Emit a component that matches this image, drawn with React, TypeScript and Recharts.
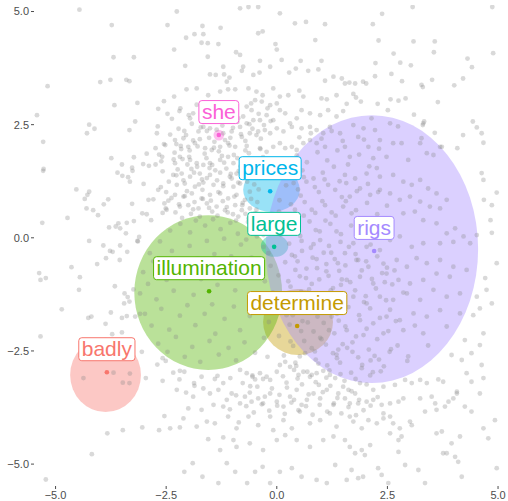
import { ScatterChart, Scatter, XAxis, YAxis, ReferenceArea } from "recharts";

const words = ["badly", "determine", "illumination", "large", "prices", "rigs", "she"];
const colors = ["#F8766D", "#C49A00", "#53B400", "#00C094", "#00B6EB", "#A58AFF", "#FB61D7"];

// word positions
const wordX = [-3.84, 0.46, -1.53, -0.06, -0.15, 2.2, -1.31];
const wordY = [-2.97, -1.95, -1.18, -0.2, 1.03, -0.29, 2.27];

// ellipse centres and half axes
const ellCx = [-3.87, 0.48, -1.55, -0.05, -0.12, 2.15, -1.31];
const ellCy = [-3.03, -1.86, -1.21, -0.18, 1.06, -0.25, 2.27];
const ellRx = [0.8, 0.79, 1.67, 0.31, 0.64, 2.4, 0.12];
const ellRy = [0.82, 0.73, 1.71, 0.24, 0.49, 2.96, 0.12];

const xTicks = [-5, -2.5, 0, 2.5, 5];
const yTicks = [-5, -2.5, 0, 2.5, 5];

// background cloud, by region
const cloudNW = [
  [-4.46, 5.04], [-3.73, 4.7], [-2.47, 4.7], [-3.69, 3.99], [-3.23, 3.99], [-5.18, 3.35], [-3.99, 3.44], [-3.76, 3.49],
  [-3.4, 3.49], [-3.33, 3.46], [-3.67, 2.93], [-3.15, 2.98], [-2.55, 3.02], [-2.68, 2.85], [-5.42, 2.71], [-4.24, 2.5],
  [-4.12, 2.41], [-4.29, 2.31], [-3.2, 2.57], [-3.33, 2.38], [-2.69, 2.46], [-5.28, 2.12], [-2.74, 1.98], [-2.55, 2.07],
  [-2.94, 1.86], [-2.66, 1.84], [-2.59, 1.79], [-3.23, 1.78], [-3.74, 1.76], [-3.5, 1.62], [-3.27, 1.55], [-3.02, 1.63],
  [-2.89, 1.59], [-2.74, 1.62], [-2.61, 1.69], [-5.27, 1.52],
];
const cloudW = [
  [-5.28, 1.48], [-3.6, 1.44], [-3.49, 1.37], [-3.36, 1.34], [-3.26, 1.48], [-3.32, 1.24], [-3.01, 1.19], [-4.53, 1.07],
  [-4.24, 1.02], [-4.28, 0.95], [-4.34, 0.86], [-3.81, 0.85], [-3.91, 0.74], [-3.27, 0.75], [-2.9, 0.84], [-2.79, 0.85],
  [-2.68, 1.06], [-2.5, 1.01], [-4.3, 0.65], [-4.15, 0.61], [-4.04, 0.5], [-3.04, 0.54], [-2.94, 0.52], [-4.73, 0.44],
  [-5.3, 0.33], [-3.58, 0.32], [-3.64, 0.25], [-3.54, 0.21], [-3.39, 0.33], [-3.23, 0.37], [-3.41, 0.1], [-3.79, 0.23],
  [-2.84, 0.39], [-2.58, 0.55], [-2.54, 0.76], [-2.51, 0.65], [-4.24, -0.07], [-3.92, -0.17], [-3.77, -0.29], [-3.71, -0.31],
  [-3.54, -0.17], [-3.38, -0.31], [-3.14, -0.08], [-3.11, 0.02], [-3.86, -0.45], [-4.06, -0.58], [-3.55, -0.49], [-4.64, -0.65],
  [-5.37, -0.78], [-5.22, -0.89], [-5.34, -0.93], [-4.45, -0.87], [-4.47, -1.15], [-3.66, -1.07], [-3.44, -1.23], [-3.37, -1.31],
  [-3.33, -1.41], [-3.45, -1.45], [-3.24, -1.14], [-4.86, -1.58], [-4.26, -1.77], [-4.19, -1.74], [-3.87, -1.9], [-3.75, -1.65],
  [-3.5, -1.77], [-3.39, -1.73], [-3.2, -1.74], [-3.09, -1.68], [-3.15, -0.07], [-5.34, -2.18], [-3.72, -2.13], [-3.5, -2.09],
];
const cloudSW = [
  [-4.37, -3.1], [-3.69, -2.98], [-3.32, -3.0], [-3.48, -3.2], [-3.33, -3.21], [-3.05, -2.52], [-2.7, -2.8], [-2.58, -2.66],
  [-2.51, -2.72], [-2.96, -3.1], [-2.58, -3.16], [-2.54, -3.94], [-3.83, -4.32], [-3.48, -4.25], [-3.04, -4.19], [-2.66, -4.25],
  [-4.18, -4.78], [-5.22, -5.34],
];
const cloudS = [
  [-2.34, -2.98], [-2.19, -2.94], [-2.09, -2.96], [-2.2, -3.13], [-1.87, -3.21], [-1.7, -3.07], [-1.4, -3.12], [-1.34, -3.05],
  [-1.21, -3.21], [-0.83, -2.92], [-0.68, -2.99], [-0.55, -3.07], [-0.49, -3.13], [-0.38, -2.99], [-0.23, -3.07], [-0.15, -3.14],
  [0.0, -2.96], [0.07, -2.81], [0.19, -2.74], [0.3, -2.85], [0.39, -2.92], [0.49, -3.03], [0.6, -2.96], [0.75, -3.07],
  [0.9, -2.99], [1.05, -2.94], [1.2, -3.03], [1.32, -3.1], [-2.26, -3.36], [-2.05, -3.42], [-1.89, -3.51], [-1.66, -3.33],
  [-1.51, -3.44], [-1.32, -3.36], [-1.13, -3.58], [-1.02, -3.44], [-0.83, -3.66], [-0.72, -3.51], [-0.57, -3.62], [-0.42, -3.55],
  [-0.31, -3.66], [-0.15, -3.44], [0.0, -3.62], [0.15, -3.73], [0.3, -3.51], [0.45, -3.36], [0.56, -3.69], [0.68, -3.58],
  [0.83, -3.44], [0.98, -3.55], [1.13, -3.36], [1.28, -3.69], [1.39, -3.44], [-2.0, -3.77], [-1.7, -3.8], [-1.43, -3.69],
  [-1.21, -3.73], [-2.11, -3.99], [-1.81, -4.17], [-1.58, -4.06], [-1.4, -4.1], [-1.1, -3.95], [-0.91, -4.21], [-0.64, -3.95],
  [-0.42, -4.14], [-0.15, -3.95], [-0.08, -4.25], [0.15, -4.03], [0.34, -4.21], [0.52, -3.84], [0.75, -4.1], [0.98, -4.03],
  [1.2, -3.88], [1.35, -4.17], [-1.55, -4.45], [-1.21, -4.41], [-0.98, -4.47], [-0.61, -4.54], [-0.31, -4.69], [0.0, -4.47],
  [0.19, -4.36], [0.45, -4.47], [0.75, -4.62], [1.05, -4.47], [1.28, -4.39], [-1.28, -4.69], [-0.91, -4.62], [-1.9, -4.98],
  [-2.09, -5.17], [-1.68, -5.28], [-1.32, -5.42], [-0.94, -5.17], [-0.67, -5.42], [-0.49, -5.17], [-0.32, -5.06], [-0.15, -5.42],
  [0.07, -5.17], [0.34, -5.09], [0.56, -5.28], [0.9, -5.35], [1.13, -5.42], [1.32, -5.02], [-1.13, -4.98], [-2.41, -4.21],
  [-2.19, -4.19], [-1.86, -3.27], [-0.6, -3.28], [0.22, -3.2], [0.95, -3.25], [-1.05, -3.1],
];
const cloudSE = [
  [1.5, -3.29], [1.62, -3.36], [1.77, -3.44], [1.88, -3.21], [2.18, -3.36], [2.41, -3.29], [2.67, -3.25], [2.9, -3.14],
  [3.05, -3.21], [3.24, -3.14], [3.39, -3.21], [3.65, -3.13], [3.76, -3.18], [4.07, -3.4], [4.18, -2.7], [4.29, -2.99],
  [4.4, -3.18], [4.67, -3.1], [4.63, -2.81], [3.95, -2.59], [4.25, -2.26], [4.59, -2.37], [4.4, -2.55], [1.54, -3.55],
  [1.65, -3.66], [1.84, -3.66], [2.03, -3.62], [2.18, -3.58], [2.37, -3.69], [2.56, -3.66], [2.75, -3.62], [2.86, -3.55],
  [3.24, -3.55], [3.35, -3.84], [3.5, -3.51], [3.58, -3.66], [3.61, -3.8], [3.8, -3.73], [3.88, -3.62], [3.99, -3.55],
  [4.07, -3.44], [4.25, -3.73], [4.4, -3.84], [4.59, -3.44], [4.93, -4.03], [1.65, -3.95], [1.73, -4.06], [1.92, -4.21],
  [2.07, -4.03], [2.26, -4.1], [2.41, -3.99], [2.56, -3.95], [2.63, -4.1], [2.78, -4.21], [3.01, -4.06], [3.05, -4.14],
  [3.61, -4.32], [3.73, -4.28], [3.95, -4.54], [4.14, -4.39], [4.67, -4.21], [4.78, -4.43], [1.54, -4.47], [1.65, -4.62],
  [1.77, -4.76], [1.92, -4.69], [1.99, -4.8], [2.11, -4.58], [2.56, -4.32], [2.75, -4.47], [2.82, -4.39], [2.9, -5.02],
  [2.75, -4.73], [3.2, -5.13], [3.35, -5.42], [3.76, -4.76], [3.84, -4.76], [4.03, -4.84], [4.1, -4.95], [4.18, -5.28],
  [4.97, -5.09], [1.69, -5.13], [1.58, -5.35], [1.84, -5.31], [1.95, -5.28], [2.29, -5.09], [2.37, -5.24], [2.52, -5.42],
];
const cloudE = [
  [4.63, 1.43], [4.67, 1.28], [4.97, 1.0], [4.86, 0.72], [4.86, 0.11], [4.97, -0.56], [4.71, -0.89], [4.74, -1.15],
  [4.86, -1.45], [4.59, -1.56], [4.44, -1.71], [4.67, -2.11], [4.52, -1.3], [4.68, 0.84], [4.83, 0.39], [4.52, 0.06],
  [3.07, 5.1], [4.87, 5.1], [2.38, 4.95], [2.17, 4.72], [2.3, 4.36], [3.09, 4.34], [3.57, 4.34], [3.55, 4.1],
  [4.89, 4.08], [2.64, 4.07], [2.23, 3.86], [2.79, 3.87], [3.03, 3.81], [4.31, 3.96], [4.41, 3.77], [2.22, 3.57],
  [2.59, 3.62], [2.83, 3.46], [3.27, 3.38], [3.3, 3.33], [3.51, 3.49], [4.01, 3.37], [4.21, 3.52], [1.47, 3.52],
  [1.54, 3.41], [1.64, 3.43], [1.77, 3.41], [1.95, 3.45], [2.02, 3.41], [1.73, 3.18], [1.79, 3.1], [1.9, 3.01],
  [1.58, 2.96], [1.5, 2.8], [2.28, 2.96], [2.51, 2.82], [2.57, 3.06], [2.75, 3.03], [2.91, 3.08], [3.1, 2.72],
  [3.33, 2.57], [3.3, 2.49], [3.64, 3.0], [3.57, 2.32], [4.43, 2.57], [4.52, 2.44], [4.63, 2.31], [4.67, 2.1],
  [4.21, 2.27], [4.08, 1.98], [3.73, 2.01],
];
const cloudN = [
  [-0.83, 5.07], [-0.64, 5.1], [-0.42, 5.1], [0.07, 4.96], [0.41, 4.74], [0.66, 4.77], [1.09, 4.72], [-2.26, 5.0],
  [-1.68, 4.68], [-1.86, 4.5], [-1.66, 4.5], [-2.05, 4.42], [-1.7, 4.31], [-1.56, 4.3], [-1.32, 4.28], [-2.32, 4.16],
  [-0.92, 4.1], [-0.83, 4.04], [-1.27, 4.64], [-0.42, 4.52], [-0.32, 4.56], [-0.03, 4.28], [0.0, 4.16], [-0.38, 3.91],
  [0.11, 3.93], [0.54, 3.91], [1.01, 3.91], [0.87, 4.37], [-2.07, 3.8], [-1.56, 4.0], [-1.51, 3.61], [-1.38, 3.6],
  [-1.21, 3.78], [-1.19, 3.61], [-1.07, 3.54], [-1.13, 3.45], [-0.79, 3.69], [-0.76, 3.78], [-0.53, 3.6], [-0.39, 3.65],
  [-0.15, 3.78], [0.28, 3.65], [0.43, 3.74], [0.71, 3.69], [0.94, 3.72], [1.09, 3.47], [1.28, 3.56], [-2.32, 3.12],
  [-2.04, 3.28], [-1.81, 3.3], [-1.55, 3.15], [-1.28, 3.23], [-1.1, 3.28], [-0.94, 3.28], [-0.64, 3.3], [-0.46, 3.23],
  [-0.32, 3.15], [-0.08, 3.3], [0.07, 3.12], [0.26, 3.15], [0.51, 3.25], [0.6, 3.12], [1.01, 3.08], [1.13, 3.06],
  [1.35, 3.15], [-2.2, 2.8], [-1.96, 2.64], [-1.89, 2.75], [-1.66, 2.45], [-1.77, 2.35], [-1.51, 2.42], [-0.87, 2.64],
  [-0.68, 2.9], [-0.57, 2.82], [-0.49, 3.04], [-0.34, 3.01], [-0.15, 2.93], [0.0, 2.97], [0.07, 2.82], [0.19, 2.75],
  [0.3, 2.53], [0.45, 2.64], [0.56, 2.82], [0.75, 2.75], [0.98, 2.71], [1.16, 2.82], [1.35, 2.68], [-0.53, 2.6],
  [-0.38, 2.6], [-0.23, 2.71], [-0.08, 2.6], [-0.68, 2.53], [-0.83, 2.45], [-1.21, 2.31], [-1.02, 2.35], [-0.79, 2.23],
  [-0.61, 2.31], [-0.42, 2.35], [-0.27, 2.38], [-0.15, 2.31], [0.0, 2.42], [0.15, 2.35], [0.34, 2.45], [0.56, 2.42],
  [0.75, 2.45], [0.9, 2.38], [1.05, 2.31], [1.2, 2.45], [-2.3, 2.16], [-2.11, 2.2], [-2.0, 2.01], [-2.17, 2.03],
  [-1.85, 2.09], [-1.62, 1.98], [-1.47, 1.94], [-1.28, 2.01], [-1.1, 2.09], [-0.94, 2.01], [-0.68, 2.03], [-0.38, 1.98],
  [-0.23, 1.9], [-0.08, 2.01], [0.07, 2.09], [0.19, 1.98], [0.34, 2.01], [0.45, 1.94], [0.6, 2.09], [0.75, 2.16],
  [0.9, 2.09], [1.09, 2.01], [-1.81, 1.65], [-1.66, 1.61], [-1.51, 1.65], [-1.28, 1.72], [-1.1, 1.79], [-0.98, 1.65],
  [-2.19, 1.79], [-1.96, 1.72], [-2.3, 1.65],
];
const cloudMid = [
  [-2.34, 1.39], [-2.15, 1.42], [-1.96, 1.35], [-1.74, 1.42], [-1.51, 1.39], [-1.28, 1.44], [-1.06, 1.35], [-0.91, 1.42],
  [-2.26, 1.17], [-2.08, 1.2], [-1.85, 1.13], [-1.66, 1.22], [-1.43, 1.17], [-1.21, 1.2], [-0.98, 1.13], [-0.83, 1.2],
  [-2.3, 0.95], [-2.11, 0.91], [-1.92, 0.98], [-1.7, 0.87], [-1.51, 0.95], [-1.28, 0.98], [-1.1, 0.87], [-0.91, 0.95],
  [-0.72, 0.84], [-2.19, 0.69], [-2.0, 0.72], [-1.77, 0.65], [-1.58, 0.76], [-1.36, 0.69], [-1.17, 0.61], [-0.94, 0.72],
  [-0.79, 0.61], [-0.61, 0.65], [-0.87, 0.47], [-0.64, 0.43], [-0.49, 0.54], [-0.53, 0.21], [-0.42, 0.32], [-0.3, 0.06],
  [-0.45, 0.03], [-0.3, -0.2], [-0.19, -0.34], [-0.61, 0.1],
];
const cloudDense = [
  [-2.22, 2.41], [-2.05, 2.27], [-1.92, 2.52], [-1.74, 2.18], [-1.58, 2.36], [-1.41, 2.12], [-1.23, 2.48], [-1.05, 2.21],
  [-0.89, 2.56], [-0.71, 2.14], [-0.55, 2.41], [-0.36, 2.19], [-2.31, 1.88], [-2.13, 1.74], [-1.97, 1.93], [-1.8, 1.57],
  [-1.63, 1.86], [-1.46, 1.61], [-1.31, 1.91], [-1.14, 1.53], [-0.97, 1.83], [-0.82, 1.58], [-0.63, 1.87], [-0.47, 1.63],
  [-0.31, 1.78], [-2.24, 1.51], [-2.02, 1.62], [-1.87, 1.44], [-1.69, 1.29], [-1.52, 1.54], [-1.35, 1.27], [-1.19, 1.66],
  [-1.02, 1.31], [-0.86, 1.48], [-0.67, 1.24], [-0.52, 1.39], [-0.41, 1.07], [-0.58, 0.86], [-0.46, 0.62], [-0.34, 0.41],
  [-0.65, 0.35], [-0.78, 0.72], [-0.99, 0.52], [-1.22, 0.81], [-1.46, 0.58], [-1.67, 0.86], [-1.89, 0.63], [-2.08, 0.92],
  [-2.29, 0.56], [-2.45, 0.82],
];
const cloudUpperBand = [
  [-2.37, 2.63], [-2.18, 2.86], [-1.99, 2.71], [-1.81, 2.94], [-1.62, 2.67], [-1.44, 2.82], [-1.27, 2.59], [-1.08, 2.77],
  [-0.93, 2.91], [-0.76, 2.68], [-0.58, 2.97], [-0.41, 2.74], [-2.41, 2.28], [-2.27, 2.07], [-2.09, 2.36], [-1.89, 2.15],
  [-1.72, 2.44], [-1.53, 2.21], [-1.36, 2.39], [-1.17, 2.16], [-0.99, 2.43], [-0.81, 2.29], [-0.62, 2.51], [-0.46, 2.27],
  [-0.29, 2.49], [-2.33, 1.73], [-2.16, 1.96], [-1.98, 1.79], [-1.79, 2.02], [-1.59, 1.76], [-1.42, 1.99], [-1.24, 1.81],
  [-1.07, 2.04], [-0.89, 1.76], [-0.71, 1.93], [-0.53, 1.74], [-0.37, 1.96], [-2.44, 1.24], [-2.27, 1.38], [-2.11, 1.27],
  [-1.93, 1.52], [-1.76, 1.18], [-1.58, 1.32], [-1.39, 1.49], [-1.21, 1.14], [-1.04, 1.41], [-0.87, 1.22], [-0.69, 1.54],
  [-0.51, 1.18], [-0.36, 1.33], [-2.38, 0.88], [-2.21, 0.74], [-2.03, 1.03], [-1.86, 0.79], [-1.68, 1.06], [-1.49, 0.82],
  [-1.32, 1.01], [-1.13, 0.68], [-0.96, 0.91], [-0.77, 0.77], [-0.61, 1.02], [-0.44, 0.79], [-2.14, 0.44], [-1.94, 0.53],
  [-1.74, 0.47], [-1.53, 0.66], [-1.34, 0.49], [-1.11, 0.56], [-0.92, 0.38], [-0.71, 0.53], [-0.52, 0.28], [-0.39, 0.16],
  [-2.52, 2.05], [-2.58, 1.47], [-2.62, 1.12], [-2.49, 0.62], [-2.71, 2.31], [-2.47, 2.74], [-0.21, 2.86], [-0.14, 2.58],
];
const cloudGreen = [
  [-2.87, -0.34], [-2.64, -0.08], [-2.41, 0.16], [-2.18, 0.31], [-1.96, 0.12], [-1.83, 0.38], [-1.62, 0.27], [-1.44, 0.41],
  [-1.27, 0.19], [-1.05, 0.33], [-0.88, 0.09], [-0.69, -0.04], [-3.02, -0.76], [-2.79, -0.52], [-2.58, -0.67], [-2.37, -0.29],
  [-2.21, -0.58], [-1.97, -0.18], [-1.79, -0.46], [-1.58, -0.07], [-1.41, -0.36], [-1.19, -0.02], [-1.03, -0.41], [-0.81, -0.15],
  [-0.57, -0.44], [-0.38, -0.71], [-3.09, -1.23], [-2.91, -1.02], [-2.72, -1.36], [-2.49, -0.93], [-2.33, -1.17], [-2.06, -0.84],
  [-1.88, -1.26], [-1.71, -0.91], [-1.46, -1.47], [-1.34, -1.04], [-1.12, -0.72], [-0.94, -1.16], [-0.74, -0.83], [-0.52, -1.24],
  [-0.27, -0.96], [-2.98, -1.68], [-2.83, -1.94], [-2.61, -1.57], [-2.43, -2.03], [-2.19, -1.72], [-2.02, -1.49], [-1.84, -1.93],
  [-1.63, -1.68], [-1.39, -2.12], [-1.18, -1.79], [-0.97, -1.52], [-0.83, -2.04], [-0.61, -1.73], [-0.42, -1.48], [-0.18, -1.86],
  [-2.68, -2.34], [-2.47, -2.52], [-2.28, -2.19], [-2.08, -2.63], [-1.91, -2.41], [-1.73, -2.74], [-1.52, -2.28], [-1.31, -2.58],
  [-1.09, -2.43], [-0.92, -2.71], [-0.73, -2.31], [-0.49, -2.54], [-0.29, -2.21],
];
const cloudPurple = [
  [1.54, 1.39], [1.77, 1.31], [2.03, 1.42], [2.33, 1.35], [2.63, 1.39], [2.86, 1.24], [3.05, 1.17], [3.24, 1.28],
  [3.42, 1.09], [3.61, 0.98], [3.84, 0.84], [3.69, 0.65], [3.46, 0.69], [3.24, 0.8], [3.01, 0.91], [2.78, 0.84],
  [2.56, 0.98], [2.33, 1.06], [2.11, 0.95], [1.88, 1.09], [1.65, 0.91], [1.5, 0.69], [1.69, 0.54], [2.86, 0.54],
  [3.12, 0.58], [3.31, 0.39], [3.61, 0.32], [3.84, 0.1], [4.03, 0.21], [4.22, 0.03], [4.37, -0.12], [3.99, -0.09],
  [3.69, -0.12], [3.31, -0.12], [3.05, -0.2], [2.78, 0.03], [2.56, -0.05], [2.33, -0.27], [2.03, -0.2], [1.73, -0.12],
  [1.54, -0.34], [1.8, -0.49], [2.07, -0.64], [2.41, -0.57], [2.71, -0.49], [2.94, -0.64], [3.16, -0.45], [3.39, -0.56],
  [3.69, -0.49], [3.99, -0.64], [4.29, -0.71], [3.91, -0.86], [3.61, -0.79], [3.31, -0.93], [3.01, -1.01], [2.75, -0.93],
  [2.48, -0.79], [2.18, -1.01], [1.88, -0.86], [1.58, -0.93], [1.73, -1.3], [2.03, -1.45], [2.33, -1.3], [2.63, -1.37],
  [2.94, -1.23], [3.24, -1.37], [3.54, -1.15], [3.84, -1.3], [4.14, -1.23], [3.69, -1.6], [3.39, -1.74], [3.09, -1.67],
  [2.78, -1.82], [2.48, -1.74], [2.18, -1.89], [1.88, -1.82], [1.58, -2.04], [1.96, -2.15], [2.41, -2.11], [2.86, -2.04],
  [3.31, -2.11], [3.84, -1.96], [4.14, -1.67], [1.43, 2.31], [1.54, 2.01], [1.65, 1.79], [1.84, 2.23], [1.96, 2.42],
  [2.07, 2.01], [2.14, 2.64], [2.33, 2.16], [2.48, 1.79], [2.56, 2.53], [2.63, 2.09], [2.74, 2.46], [2.82, 2.09],
  [2.97, 1.72], [3.24, 2.09], [3.31, 2.53], [3.27, 2.2], [3.39, 1.87], [3.54, 1.83], [3.69, 2.01], [2.18, 1.76],
  [2.26, 1.54], [1.71, -2.52], [2.12, -2.71], [2.58, -2.46], [2.97, -2.62], [3.42, -2.38], [2.35, -2.95], [1.92, -2.88],
];
const cloudPurpleLow = [
  [0.34, -0.38], [0.57, -0.29], [0.81, -0.44], [1.06, -0.33], [1.31, -0.47], [1.55, -0.61], [1.78, -0.36], [2.02, -0.52],
  [2.27, -0.41], [2.49, -0.66], [0.42, -0.71], [0.66, -0.89], [0.91, -0.67], [1.17, -0.84], [1.41, -0.73], [1.66, -0.98],
  [1.92, -0.72], [2.15, -0.91], [2.38, -0.78], [2.61, -1.03], [0.31, -1.08], [0.55, -1.19], [0.79, -1.02], [1.03, -1.27],
  [1.27, -1.11], [1.52, -1.34], [1.77, -1.16], [2.01, -1.29], [2.24, -1.12], [2.47, -1.38], [0.39, -1.52], [0.64, -1.41],
  [0.88, -1.63], [1.13, -1.47], [1.36, -1.68], [1.62, -1.53], [1.86, -1.71], [2.11, -1.56], [2.33, -1.77], [2.56, -1.59],
  [0.29, -1.92], [0.58, -1.84], [0.83, -2.07], [1.06, -1.88], [1.3, -2.11], [1.55, -1.96], [1.79, -2.18], [2.03, -2.01],
  [2.27, -2.24], [2.52, -2.06], [0.37, -2.39], [0.62, -2.28], [0.86, -2.51], [1.11, -2.36], [1.35, -2.58], [1.59, -2.43],
  [1.84, -2.64], [2.08, -2.47], [2.31, -2.69], [2.55, -2.52], [0.44, -2.83], [0.69, -2.96], [0.94, -2.78], [1.19, -2.93],
  [1.43, -2.76], [1.68, -2.98], [1.93, -2.81], [2.17, -2.97], [2.42, -2.84], [0.47, -0.52], [0.73, -1.31], [0.98, -2.21],
  [1.24, -1.74], [1.47, -0.92], [1.71, -2.31], [1.97, -1.42], [2.21, -2.61], [2.44, -0.98], [0.52, -2.62], [1.12, -0.58],
  [1.39, -2.47], [1.84, -0.49], [0.36, -1.71], [2.69, -1.84], [2.73, -2.38], [2.66, -0.72], [2.86, -1.21], [2.95, -2.72],
  [3.12, -1.94],
];
const cloudLowerBand = [
  [-0.77, -3.21], [-0.61, -3.42], [-0.44, -3.29], [-0.27, -3.51], [-0.11, -3.33], [0.06, -3.47], [0.23, -3.31], [0.39, -3.58],
  [0.57, -3.24], [0.72, -3.46], [0.88, -3.19], [1.04, -3.41], [1.21, -3.27], [1.37, -3.54], [1.53, -3.16], [1.69, -3.39],
  [1.86, -3.58], [2.03, -3.24], [-0.69, -3.72], [-0.52, -3.86], [-0.34, -3.68], [-0.17, -3.82], [0.01, -3.71], [0.18, -3.89],
  [0.33, -3.64], [0.49, -3.81], [0.66, -3.72], [0.81, -3.91], [0.97, -3.69], [1.14, -3.84], [1.29, -3.66], [1.46, -3.88],
  [1.62, -3.74], [1.79, -3.92], [1.96, -3.81], [2.12, -3.71], [-0.55, -3.04], [-0.31, -3.12], [0.14, -3.06], [0.47, -3.11],
  [0.79, -3.03], [1.12, -3.09], [1.44, -3.01], [1.78, -3.12], [2.11, -3.04], [-0.92, -3.48], [-1.06, -3.79], [2.28, -3.52],
  [2.41, -3.88], [-0.86, -4.08],
];
const cloudPurpleHigh = [
  [0.45, 1.82], [0.68, 1.67], [0.92, 1.89], [1.14, 1.71], [1.37, 1.93], [1.61, 1.62], [1.86, 1.84], [2.09, 1.58],
  [2.31, 1.97], [0.51, 2.22], [0.77, 2.31], [1.01, 2.19], [1.24, 2.36], [1.49, 2.14], [1.73, 2.49], [1.97, 2.17],
  [2.22, 2.38], [0.41, 0.62], [0.63, 0.79], [0.87, 0.55], [1.09, 0.72], [1.33, 0.49], [1.56, 0.81], [1.79, 0.61],
  [2.04, 0.77], [2.27, 0.52], [2.49, 0.71], [0.49, 0.23], [0.74, 0.36], [0.97, 0.14], [1.21, 0.31], [1.45, 0.08],
  [1.68, 0.27], [1.92, 0.04], [2.16, 0.22], [2.39, 0.09], [0.38, 1.21], [0.61, 1.34], [0.86, 1.12], [1.08, 1.29],
  [1.32, 1.06], [1.57, 1.21], [1.81, 1.03], [2.06, 1.19], [2.29, 1.01], [0.56, -0.07], [0.83, -0.14], [1.18, -0.18],
  [1.63, -0.2], [2.12, -0.15],
];
const cloudCore = [
  [0.12, 1.52], [0.37, 1.36], [0.58, 1.49], [0.83, 1.31], [1.04, 1.44], [1.29, 1.57], [0.21, 1.16], [0.48, 1.07],
  [0.67, 1.24], [0.95, 1.01], [1.16, 1.17], [1.42, 1.25], [0.06, 0.83], [0.32, 0.74], [0.54, 0.93], [0.79, 0.62],
  [1.03, 0.81], [1.24, 0.56], [1.47, 0.9], [0.16, 0.44], [0.39, 0.26], [0.61, 0.49], [0.88, 0.17], [1.1, 0.38],
  [1.35, 0.14], [0.09, 0.07], [0.28, -0.13], [0.53, 0.04], [0.77, -0.22], [0.98, -0.05], [1.23, -0.33], [1.44, -0.09],
  [0.19, -0.54], [0.41, -0.41], [0.67, -0.68], [0.9, -0.47], [1.12, -0.74], [1.38, -0.56], [0.04, -0.83], [0.26, -0.96],
  [0.52, -0.85], [0.73, -1.14], [0.96, -0.92], [1.22, -1.16], [1.45, -1.04], [0.11, -1.32], [0.37, -1.24], [0.59, -1.45],
  [0.85, -1.29], [1.07, -1.6], [1.33, -1.39], [0.22, -1.71], [0.44, -1.64], [0.7, -1.87], [0.92, -1.74], [1.18, -2.04],
  [1.4, -1.83], [0.05, -2.17], [0.31, -2.29], [0.55, -2.06], [0.79, -2.44], [1.01, -2.24], [1.27, -2.55], [1.49, -2.35],
  [0.16, -2.6], [0.42, -2.76], [0.64, -2.55], [0.88, -2.69], [1.14, -2.82], [1.36, -2.66], [-0.14, -0.62], [-0.09, -1.21],
  [-0.21, -2.63], [0.05, 0.58], [-0.12, 0.31],
];

const xDomain: [number, number] = [-5.487, 5.067];
const yDomain: [number, number] = [-5.484, 5.144];

const cloud = [
  ...cloudNW, ...cloudW, ...cloudSW, ...cloudS, ...cloudSE, ...cloudE, ...cloudN, ...cloudMid, ...cloudDense,
  ...cloudUpperBand, ...cloudGreen, ...cloudPurple, ...cloudPurpleLow, ...cloudLowerBand, ...cloudPurpleHigh, ...cloudCore,
].map(([x, y]) => ({ x, y }));

const wordPoints = words.map((word, i) => ({ word, color: colors[i], x: wordX[i], y: wordY[i] }));

const fmt = (v: number) => (v < 0 ? "\u2212" + Math.abs(v).toFixed(1) : v.toFixed(1));

const FONT = '"Liberation Sans", Arial, sans-serif';
const labelSize = 21;
let ctx: CanvasRenderingContext2D | null = null;
function textWidth(s: string) {
  if (!ctx) ctx = document.createElement("canvas").getContext("2d");
  if (!ctx) return s.length * labelSize * 0.5;
  ctx.font = `${labelSize}px ${FONT}`;
  return ctx.measureText(s).width;
}

const GreyDot = (p: any) => <circle cx={p.cx} cy={p.cy} r={2.4} fill="#888888" fillOpacity={0.32} />;

const WordDot = (p: any) => <circle cx={p.cx} cy={p.cy} r={2.3} fill={p.payload.color} />;

function WordLabel(p: any) {
  const { cx, cy, payload } = p;
  const w = textWidth(payload.word) + 6;
  const h = 23;
  const top = cy - 23 - h / 2;
  return (
    <g>
      <rect x={cx - w / 2} y={top} width={w} height={h} rx={3} fill="#ffffff" stroke={payload.color} strokeWidth={1} />
      <text x={cx} y={top + h - 4.5} textAnchor="middle" fontSize={labelSize} fontFamily={FONT} fill={payload.color}>
        {payload.word}
      </text>
    </g>
  );
}

function EllipseShape(p: any) {
  const { x, y, width, height, color } = p;
  return (
    <ellipse
      cx={x + width / 2}
      cy={y + height / 2}
      rx={Math.abs(width) / 2}
      ry={Math.abs(height) / 2}
      fill={color}
      fillOpacity={0.4}
      stroke="none"
    />
  );
}

export default function App() {
  return (
    <div style={{ position: "absolute", left: 0, top: 0, fontFamily: FONT }}>
      <ScatterChart width={508} height={501} margin={{ top: 5, right: 7, bottom: 0, left: 0 }}>
        <XAxis
          type="number"
          dataKey="x"
          domain={xDomain}
          allowDataOverflow
          ticks={xTicks}
          interval={0}
          tickFormatter={fmt}
          axisLine={false}
          tickLine={{ stroke: "#4d4d4d" }}
          tickSize={3}
          tickMargin={2}
          tick={{ fill: "#4d4d4d", fontSize: 11 }}
          height={15}
        />
        <YAxis
          type="number"
          dataKey="y"
          domain={yDomain}
          allowDataOverflow
          ticks={yTicks}
          interval={0}
          tickFormatter={fmt}
          axisLine={false}
          tickLine={{ stroke: "#4d4d4d" }}
          tickSize={3}
          tickMargin={2}
          tick={{ fill: "#4d4d4d", fontSize: 11 }}
          width={34}
        />
        <Scatter data={cloud} shape={GreyDot} isAnimationActive={false} />
        {words.map((w, i) => (
          <ReferenceArea
            key={w}
            x1={ellCx[i] - ellRx[i]}
            x2={ellCx[i] + ellRx[i]}
            y1={ellCy[i] - ellRy[i]}
            y2={ellCy[i] + ellRy[i]}
            ifOverflow="visible"
            shape={(p: any) => <EllipseShape {...p} color={colors[i]} />}
          />
        ))}
        <Scatter data={wordPoints} shape={WordDot} isAnimationActive={false} />
        <Scatter data={wordPoints} shape={WordLabel} isAnimationActive={false} />
      </ScatterChart>
    </div>
  );
}
